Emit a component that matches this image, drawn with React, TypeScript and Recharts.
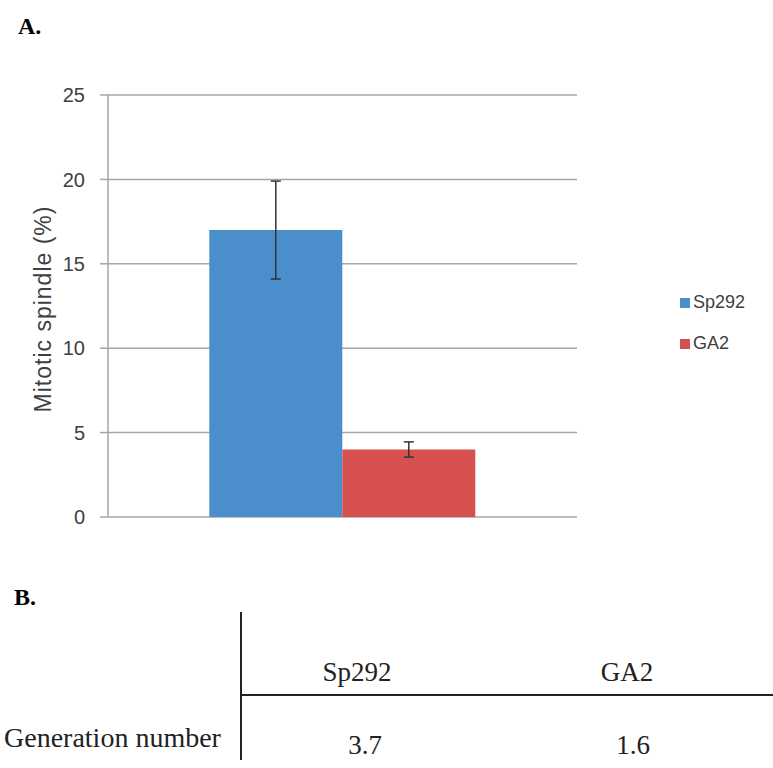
import React from "react";
import {
  BarChart,
  Bar,
  XAxis,
  YAxis,
  CartesianGrid,
  Legend,
  ErrorBar,
} from "recharts";

// Panel A: mitotic spindle (%)
const categories = [""];
const sp292Values = [17];
const sp292Errors = [2.9];
const ga2Values = [4.0];
const ga2Errors = [0.45];
const yTicks = [0, 5, 10, 15, 20, 25];

// Panel B: generation number
const tableStrains = ["Sp292", "GA2"];
const generationNumbers = ["3.7", "1.6"];

const BLUE = "#4a8ecb";
const RED = "#d6504f";
const GRID = "#a6a6a6";

const data = categories.map((name, i) => ({
  name,
  sp292: sp292Values[i],
  sp292Err: sp292Errors[i],
  ga2: ga2Values[i],
  ga2Err: ga2Errors[i],
}));

const serif = "'Liberation Serif', 'Times New Roman', serif";
const sans = "'Liberation Sans', Arial, sans-serif";

function LegendBox() {
  const items = [
    { label: "Sp292", color: BLUE },
    { label: "GA2", color: RED },
  ];
  return (
    <div style={{ fontFamily: sans, fontSize: 18, color: "#404040" }}>
      {items.map((it) => (
        <div key={it.label} style={{ display: "flex", alignItems: "center", height: 41 }}>
          <span style={{ width: 10, height: 10, background: it.color, display: "inline-block", marginRight: 3 }} />
          <span>{it.label}</span>
        </div>
      ))}
    </div>
  );
}

export default function App() {
  return (
    <div style={{ position: "absolute", left: 0, top: 0, width: 773, height: 768, background: "#fff" }}>
      <div style={{ position: "absolute", left: 18, top: 13, fontFamily: serif, fontWeight: "bold", fontSize: 24 }}>A.</div>

      <div style={{ position: "absolute", left: 0, top: 0 }}>
        <BarChart
          width={773}
          height={560}
          data={data}
          margin={{ top: 95, right: 96, left: 48, bottom: 43 }}
          barCategoryGap="21.6%"
          barGap={0}
        >
          <CartesianGrid vertical={false} stroke={GRID} strokeWidth={1.5} />
          <XAxis dataKey="name" hide />
          <YAxis
            width={60}
            domain={[0, 25]}
            ticks={yTicks}
            tickSize={8}
            tickMargin={15}
            axisLine={{ stroke: GRID, strokeWidth: 1.5 }}
            tickLine={{ stroke: GRID, strokeWidth: 1.5 }}
            tick={{ fill: "#404040", fontSize: 20, fontFamily: sans }}
            label={{
              value: "Mitotic spindle (%)",
              angle: -90,
              position: "center",
              dx: -35,
              dy: 3,
              style: { fill: "#404040", fontSize: 23, fontFamily: sans, letterSpacing: 1 },
            }}
          />
          <Legend
            layout="vertical"
            align="right"
            verticalAlign="middle"
            content={() => <LegendBox />}
            wrapperStyle={{ width: 100, left: 680, right: "auto", top: 282 }}
          />
          <Bar dataKey="sp292" name="Sp292" fill={BLUE} isAnimationActive={false}>
            <ErrorBar dataKey="sp292Err" width={5} stroke="#333" strokeWidth={1.5} direction="y" isAnimationActive={false} />
          </Bar>
          <Bar dataKey="ga2" name="GA2" fill={RED} isAnimationActive={false}>
            <ErrorBar dataKey="ga2Err" width={5} stroke="#333" strokeWidth={1.5} direction="y" isAnimationActive={false} />
          </Bar>
        </BarChart>
      </div>

      <div style={{ position: "absolute", left: 14, top: 584, fontFamily: serif, fontWeight: "bold", fontSize: 24 }}>B.</div>

      {/* Panel B table */}
      <div style={{ position: "absolute", left: 240, top: 612, width: 1.5, height: 148, background: "#222" }} />
      <div style={{ position: "absolute", left: 240, top: 694, width: 533, height: 2, background: "#222" }} />
      {tableStrains.map((s, i) => (
        <div
          key={s}
          style={{
            position: "absolute",
            left: [357, 627][i] - 80,
            width: 160,
            top: 659,
            lineHeight: 1,
            textAlign: "center",
            fontFamily: serif,
            fontSize: 27,
            color: "#222",
          }}
        >
          {s}
        </div>
      ))}
      <div style={{ position: "absolute", left: 4, top: 724, lineHeight: 1, fontFamily: serif, fontSize: 28, color: "#222" }}>
        Generation number
      </div>
      {generationNumbers.map((v, i) => (
        <div
          key={i}
          style={{
            position: "absolute",
            left: [365, 633][i] - 80,
            width: 160,
            top: 732,
            lineHeight: 1,
            textAlign: "center",
            fontFamily: serif,
            fontSize: 27,
            color: "#222",
          }}
        >
          {v}
        </div>
      ))}
    </div>
  );
}
